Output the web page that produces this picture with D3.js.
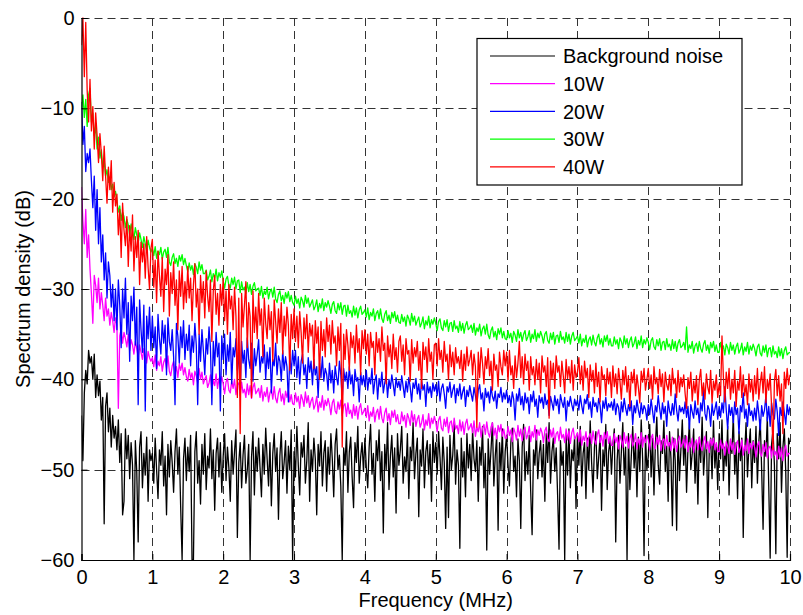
<!DOCTYPE html>
<html>
<head>
<meta charset="utf-8">
<script src="https://cdn.jsdelivr.net/npm/d3@7"></script>
<style>
  body { margin: 0; background: #fff; }
  svg { display: block; font-family: "Liberation Sans", Arial, Helvetica, sans-serif; }
</style>
</head>
<body>
<svg id="chart" width="803" height="615"></svg>
<script>
// spectrum samples, one every 0.02 MHz from 0 to 10 MHz (one line = 0.5 MHz)
const freqStepMHz = 0.02;

const xTicks = [0, 1, 2, 3, 4, 5, 6, 7, 8, 9, 10];
const yTicks = [0, -10, -20, -30, -40, -50, -60];

const seriesNames = ["Background noise", "10W", "20W", "30W", "40W"];

const noiseDb = [
  -44.0, -49.0, -41.5, -39.0, -40.5, -36.8, -38.2, -37.5, -40.0, -37.2, -42.0, -39.5, -41.8, -40.2, -44.5, -42.0, -56.0, -43.0, -41.5, -45.8, -43.2, -47.5, -44.0, -46.5, -45.2,
  -47.8, -44.5, -49.2, -46.0, -55.0, -53.5, -45.5, -48.8, -46.2, -51.0, -47.0, -49.5, -60.0, -46.8, -50.2, -58.0, -47.5, -45.8, -52.0, -48.2, -50.6, -46.4, -53.5, -47.8, -49.0,
  -48.2, -51.5, -46.5, -50.0, -53.2, -47.8, -49.5, -45.8, -51.8, -48.5, -55.0, -47.2, -50.8, -46.8, -49.2, -52.5, -48.0, -45.5, -50.5, -47.5, -54.2, -60.0, -48.8, -46.5, -51.2,
  -47.5, -50.2, -46.2, -60.0, -60.0, -48.0, -45.8, -51.5, -49.0, -53.8, -47.2, -50.5, -46.0, -52.2, -48.5, -49.8, -45.5, -51.0, -47.8, -54.5, -48.2, -46.5, -50.8, -47.0, -52.5,
  -48.5, -46.0, -51.2, -47.5, -49.8, -53.5, -46.8, -50.5, -48.0, -45.6, -57.5, -49.2, -47.0, -52.0, -48.4, -46.2, -51.5, -50.0, -47.2, -60.0, -48.6, -45.8, -52.8, -47.5, -50.2,
  -46.5, -49.8, -53.0, -47.2, -50.5, -45.4, -48.8, -51.8, -47.0, -54.0, -48.2, -46.0, -50.2, -47.6, -55.5, -48.5, -45.8, -51.0, -49.2, -46.8, -52.6, -47.4, -50.0, -45.6, -60.0,
  -48.0, -50.8, -45.2, -49.5, -52.8, -47.0, -48.6, -46.2, -51.5, -49.0, -44.8, -53.5, -47.8, -50.2, -46.5, -48.8, -55.0, -47.2, -49.6, -45.8, -51.8, -48.2, -46.8, -52.4, -47.5,
  -50.5, -46.0, -48.8, -53.0, -47.2, -45.5, -50.0, -48.4, -51.8, -60.0, -47.6, -49.5, -45.8, -52.5, -48.0, -46.4, -50.8, -54.2, -47.0, -49.2, -45.2, -51.5, -48.6, -47.0, -50.2,
  -46.5, -49.8, -52.0, -47.5, -45.0, -50.5, -48.2, -53.5, -46.8, -49.0, -45.6, -51.2, -48.0, -57.0, -47.2, -50.0, -44.8, -52.2, -48.5, -46.2, -50.8, -47.6, -54.8, -46.0, -49.5,
  -47.8, -45.2, -51.5, -48.6, -50.2, -46.0, -53.2, -47.5, -49.0, -44.8, -51.0, -48.2, -46.5, -55.2, -47.8, -49.6, -45.5, -52.0, -48.0, -46.8, -50.5, -47.2, -53.5, -45.8, -49.2,
  -47.0, -50.5, -45.8, -48.6, -52.2, -46.4, -49.2, -56.5, -47.5, -55.3, -46.2, -50.0, -48.4, -45.0, -51.6, -47.8, -49.5, -58.7, -46.5, -50.8, -48.0, -53.0, -46.0, -49.8, -47.2,
  -51.2, -45.6, -48.8, -50.2, -46.8, -53.5, -47.5, -49.5, -45.2, -52.0, -48.2, -58.9, -46.6, -50.5, -47.8, -44.8, -51.8, -48.5, -46.2, -56.7, -47.0, -50.0, -45.5, -52.6, -48.0,
  -46.2, -49.5, -51.8, -47.0, -45.4, -50.2, -48.5, -53.0, -46.6, -49.0, -56.5, -47.5, -45.0, -51.2, -48.0, -50.5, -46.2, -52.4, -57.2, -47.8, -49.5, -45.6, -51.0, -48.2, -46.8,
  -50.8, -47.2, -53.5, -46.0, -49.2, -44.8, -51.5, -48.0, -46.5, -50.2, -47.6, -52.8, -58.8, -46.8, -49.5, -48.0, -60.0, -46.2, -50.6, -45.5, -52.0, -47.8, -49.0, -46.4, -54.3,
  -46.0, -49.5, -45.2, -51.8, -48.2, -47.0, -53.2, -46.5, -50.0, -44.6, -49.2, -52.5, -47.5, -45.8, -51.0, -48.6, -46.2, -54.5, -47.8, -49.6, -45.0, -52.2, -48.0, -46.8, -50.5,
  -47.2, -45.5, -58.0, -49.0, -46.2, -51.5, -48.0, -44.8, -50.6, -47.5, -60.0, -46.0, -52.2, -48.5, -45.2, -49.8, -47.0, -53.0, -46.4, -50.2, -44.5, -48.8, -59.5, -46.2, -50.0,
  -48.5, -45.0, -50.8, -46.5, -52.8, -47.2, -44.2, -49.5, -51.6, -46.8, -48.2, -44.6, -50.2, -47.4, -53.5, -45.8, -48.8, -56.2, -46.5, -49.0, -56.7, -45.5, -51.2, -47.8, -44.5,
  -49.5, -46.2, -52.5, -47.6, -44.8, -50.0, -48.2, -45.5, -51.5, -47.0, -53.8, -46.4, -49.2, -44.2, -50.6, -47.8, -45.8, -55.3, -48.0, -46.5, -51.0, -44.6, -49.8, -47.2, -52.2,
  -46.0, -48.8, -44.5, -51.2, -47.5, -49.6, -45.2, -52.8, -46.8, -48.2, -44.0, -50.5, -47.0, -53.2, -45.8, -49.0, -46.5, -57.5, -48.2, -44.8, -50.8, -47.4, -45.5, -52.0, -46.8,
  -49.2, -45.2, -51.5, -47.0, -44.5, -50.0, -56.6, -46.8, -48.5, -44.2, -51.8, -59.8, -47.2, -45.6, -49.5, -59.3, -46.0, -48.8, -44.8, -52.5, -47.5, -45.5, -50.2, -59.7, -46.5,
  -47.2
];

const w10Db = [
  -18.7, -22.5, -25.0, -21.2, -26.5, -24.0, -27.8, -30.5, -33.8, -28.5, -29.6, -31.5, -28.8, -32.2, -30.4, -31.8, -33.5, -31.0, -33.0, -32.2, -34.0, -32.6, -33.5, -34.8, -33.2,
  -34.0, -43.2, -35.2, -34.4, -36.0, -34.8, -35.5, -36.4, -35.0, -36.8, -35.6, -36.2, -37.2, -35.8, -36.6, -37.5, -36.2, -37.0, -37.8, -36.6, -37.4, -38.2, -36.9, -37.6, -38.0,
  -37.6, -38.6, -37.3, -39.0, -38.0, -38.5, -37.5, -39.1, -38.1, -37.7, -38.8, -37.4, -39.1, -39.6, -38.5, -38.0, -39.4, -38.6, -39.8, -38.3, -39.0, -38.2, -39.5, -38.7, -39.7,
  -40.2, -38.9, -39.9, -39.3, -40.6, -39.1, -39.6, -40.4, -38.8, -40.0, -39.2, -40.5, -40.0, -39.6, -40.9, -40.4, -39.5, -41.2, -40.1, -40.7, -39.4, -41.0, -39.9, -40.5, -39.7,
  -40.5, -41.6, -40.3, -39.9, -41.2, -41.5, -40.2, -41.0, -40.0, -41.7, -40.6, -40.4, -41.8, -40.3, -41.5, -41.1, -42.0, -40.5, -41.7, -40.7, -42.1, -40.9, -40.4, -41.6, -41.3,
  -41.0, -42.0, -40.7, -42.4, -41.4, -41.9, -40.9, -42.5, -41.5, -41.1, -42.2, -40.8, -42.1, -42.6, -41.5, -41.0, -42.4, -41.6, -42.8, -41.3, -42.0, -41.2, -42.5, -41.7, -42.7,
  -42.8, -41.5, -42.5, -41.9, -43.2, -41.7, -42.2, -43.0, -41.4, -42.6, -41.8, -43.1, -42.4, -42.0, -43.3, -42.8, -41.9, -43.6, -42.5, -43.1, -41.8, -43.4, -42.3, -42.9, -42.1,
  -42.8, -43.9, -42.6, -42.2, -43.5, -43.8, -42.5, -43.3, -42.3, -44.0, -42.9, -42.7, -44.1, -42.6, -43.8, -43.4, -44.3, -42.8, -44.0, -43.0, -44.4, -43.2, -42.7, -43.9, -43.6,
  -43.2, -44.2, -42.9, -44.6, -43.6, -44.1, -43.1, -44.7, -43.7, -43.3, -44.4, -43.0, -44.3, -44.8, -43.7, -43.2, -44.6, -43.8, -45.0, -43.5, -44.2, -43.4, -44.7, -43.9, -44.9,
  -44.9, -43.6, -44.6, -44.0, -45.3, -43.8, -44.3, -45.1, -43.5, -44.7, -43.9, -45.2, -44.4, -44.0, -45.3, -44.8, -43.9, -45.6, -44.5, -45.1, -43.8, -45.4, -44.3, -44.9, -44.1,
  -44.7, -45.8, -44.5, -44.1, -45.4, -45.7, -44.4, -45.2, -44.2, -45.9, -44.8, -44.6, -45.8, -44.3, -45.5, -45.1, -46.0, -44.5, -45.7, -44.7, -46.1, -44.9, -44.4, -45.6, -45.3,
  -44.9, -45.9, -44.6, -46.3, -45.3, -45.8, -44.8, -46.4, -45.4, -45.0, -46.1, -44.7, -45.9, -46.4, -45.3, -44.8, -46.2, -45.4, -46.6, -45.1, -45.8, -45.0, -46.3, -45.5, -46.5,
  -46.5, -45.2, -46.2, -45.6, -46.9, -45.4, -45.9, -46.7, -45.1, -46.3, -45.5, -46.8, -45.7, -45.3, -46.6, -46.1, -45.2, -46.9, -45.8, -46.4, -45.1, -46.7, -45.6, -46.2, -45.4,
  -45.9, -47.0, -45.7, -45.3, -46.6, -46.9, -45.6, -46.4, -45.4, -47.1, -46.0, -45.8, -46.8, -45.3, -46.5, -46.1, -47.0, -45.5, -46.7, -45.7, -47.1, -45.9, -45.4, -46.6, -46.3,
  -45.9, -46.9, -45.6, -47.3, -46.3, -46.8, -45.8, -47.4, -46.4, -46.0, -47.1, -45.7, -46.7, -47.2, -46.1, -45.6, -47.0, -46.2, -47.4, -45.9, -46.6, -45.8, -47.1, -46.3, -47.3,
  -47.3, -46.0, -47.0, -46.4, -47.7, -46.2, -46.7, -47.5, -45.9, -47.1, -46.3, -47.6, -46.5, -46.1, -47.4, -46.9, -46.0, -47.7, -46.6, -47.2, -45.9, -47.5, -46.4, -47.0, -46.2,
  -46.7, -47.8, -46.5, -46.1, -47.4, -47.7, -46.4, -47.2, -46.2, -47.9, -46.8, -46.6, -47.7, -46.2, -47.4, -47.0, -47.9, -46.4, -47.6, -46.6, -48.0, -46.8, -46.3, -47.5, -47.2,
  -46.6, -47.6, -46.3, -48.0, -47.0, -47.5, -46.5, -48.1, -47.1, -46.7, -47.8, -46.4, -47.4, -47.9, -46.8, -46.3, -47.7, -46.9, -48.1, -46.6, -47.3, -46.5, -47.8, -47.0, -48.0,
  -48.0, -46.7, -47.7, -47.1, -48.4, -46.9, -47.4, -48.2, -46.6, -47.8, -47.0, -48.3, -47.2, -46.8, -48.1, -47.6, -46.7, -48.4, -47.3, -47.9, -46.6, -48.2, -47.1, -47.7, -46.9,
  -47.5, -48.6, -47.3, -46.9, -48.2, -48.5, -47.2, -48.0, -47.0, -48.7, -47.6, -47.4, -48.7, -47.2, -48.4, -48.0, -48.9, -47.4, -48.6, -47.6, -49.0, -47.8, -47.3, -48.5, -48.2,
  -48.2
];

const w20Db = [
  -9.3, -14.0, -12.0, -17.0, -15.0, -16.0, -14.5, -18.0, -21.0, -17.5, -23.5, -19.0, -25.0, -21.0, -27.0, -24.0, -29.0, -26.0, -31.0, -27.0, -28.5, -32.0, -29.5, -33.5, -30.0,
  -34.5, -29.0, -31.8, -36.5, -30.0, -33.2, -28.8, -35.0, -31.5, -38.0, -30.8, -33.5, -29.8, -36.2, -32.0, -42.8, -31.2, -34.5, -37.0, -31.8, -43.5, -33.0, -35.5, -32.0, -36.8,
  -33.0, -36.5, -34.2, -38.8, -32.8, -35.5, -37.2, -33.5, -36.0, -34.0, -39.5, -33.2, -35.8, -36.8, -34.5, -37.5, -42.8, -33.8, -35.2, -38.2, -34.2, -36.5, -33.5, -37.8, -35.0,
  -36.8, -34.0, -38.5, -35.2, -37.0, -33.8, -36.2, -42.8, -35.0, -38.0, -34.5, -36.8, -39.5, -35.5, -37.2, -34.2, -36.5, -42.8, -35.8, -38.5, -34.8, -37.5, -36.0, -43.5, -35.2,
  -37.8, -35.0, -39.5, -36.2, -38.0, -34.8, -40.5, -36.5, -37.5, -35.5, -39.0, -37.0, -41.2, -35.8, -38.2, -36.8, -39.8, -35.4, -37.8, -38.8, -36.0, -40.2, -36.6, -38.5, -37.2,
  -35.6, -39.2, -37.5, -38.2, -36.2, -40.0, -37.0, -38.8, -36.5, -41.5, -37.8, -38.5, -36.0, -39.5, -37.4, -38.0, -40.2, -36.8, -39.0, -37.5, -38.6, -42.5, -37.2, -39.4, -36.8,
  -38.5, -36.8, -39.8, -37.5, -40.5, -38.0, -37.2, -39.5, -38.4, -41.0, -37.6, -39.2, -38.0, -40.6, -37.8, -39.5, -38.6, -42.0, -38.2, -39.8, -37.5, -40.2, -38.8, -39.4, -41.2,
  -38.2, -40.4, -39.0, -41.5, -38.5, -39.8, -40.6, -38.0, -39.5, -42.2, -38.8, -40.2, -39.2, -41.0, -38.6, -40.5, -39.5, -41.8, -38.9, -40.2, -39.8, -42.5, -39.2, -40.6, -39.6,
  -40.8, -39.0, -41.2, -39.8, -40.5, -38.8, -41.6, -40.2, -39.5, -42.2, -39.9, -40.8, -39.2, -41.5, -40.4, -39.6, -42.0, -40.0, -41.0, -39.5, -40.6, -41.8, -39.8, -40.9, -40.2,
  -41.2, -39.6, -40.8, -42.0, -40.2, -41.4, -39.8, -40.9, -42.5, -40.4, -41.0, -39.9, -41.6, -40.5, -42.2, -40.1, -41.2, -40.6, -43.0, -40.3, -41.5, -40.8, -42.0, -40.4, -41.3,
  -40.6, -41.8, -40.2, -42.4, -41.0, -40.5, -41.6, -43.2, -40.8, -41.4, -40.3, -42.0, -41.2, -40.6, -42.6, -41.0, -41.8, -40.5, -42.2, -41.4, -40.8, -43.0, -41.2, -41.9, -40.7,
  -41.6, -42.4, -40.9, -41.8, -42.8, -41.2, -40.6, -42.2, -41.5, -43.5, -41.0, -42.0, -41.4, -42.6, -40.8, -41.9, -42.4, -41.3, -43.2, -41.6, -42.0, -40.9, -42.5, -41.5, -42.2,
  -41.2, -42.6, -41.8, -43.0, -41.4, -42.2, -44.5, -41.6, -42.4, -41.0, -42.8, -41.9, -43.4, -41.5, -42.6, -42.0, -43.8, -41.7, -42.5, -41.3, -43.0, -42.2, -44.2, -41.8, -42.6,
  -42.0, -43.2, -41.6, -42.8, -42.3, -44.0, -41.9, -42.6, -43.4, -41.8, -42.9, -42.2, -43.8, -41.7, -42.5, -43.1, -42.0, -44.6, -42.4, -43.0, -41.9, -42.8, -43.5, -42.2, -42.9,
  -42.3, -43.4, -41.8, -42.9, -43.8, -42.2, -42.7, -41.7, -43.3, -42.5, -44.2, -42.0, -43.0, -42.6, -43.6, -42.1, -42.9, -44.8, -42.4, -43.2, -42.0, -43.5, -42.7, -43.1, -42.5,
  -43.4, -42.2, -43.9, -42.7, -43.1, -44.6, -42.5, -43.6, -42.1, -43.2, -44.0, -42.8, -43.5, -42.4, -45.0, -42.9, -43.7, -42.3, -43.4, -44.2, -42.6, -43.8, -42.9, -43.3, -44.5,
  -42.8, -43.9, -42.2, -43.5, -44.8, -42.9, -43.6, -41.8, -43.2, -44.4, -42.6, -43.8, -43.0, -45.2, -42.4, -43.5, -44.0, -42.7, -43.9, -41.6, -43.4, -44.6, -42.9, -43.6, -43.1,
  -43.8, -42.5, -44.2, -43.0, -45.5, -42.8, -43.6, -44.3, -42.4, -43.9, -43.2, -44.8, -42.6, -43.5, -41.2, -43.8, -44.5, -42.9, -43.4, -45.2, -42.7, -44.0, -43.3, -42.5, -44.4,
  -43.0, -44.2, -42.6, -43.7, -40.8, -43.4, -45.5, -42.8, -44.0, -43.1, -44.8, -42.5, -43.9, -43.2, -46.0, -42.9, -43.6, -41.5, -44.3, -43.3, -45.2, -42.7, -44.0, -43.5, -44.6,
  -43.2, -44.5, -42.4, -43.8, -45.6, -42.9, -44.1, -43.4, -41.8, -44.6, -43.0, -45.2, -42.6, -43.9, -44.4, -42.2, -43.6, -46.2, -43.1, -44.0, -42.5, -43.7, -45.0, -42.8, -43.9,
  -43.0
];

const w30Db = [
  -10.0, -8.5, -11.0, -9.0, -12.0, -8.5, -7.8, -11.5, -10.5, -13.0, -12.0, -14.5, -13.2, -15.5, -14.6, -16.5, -15.8, -17.5, -16.8, -18.2, -17.6, -19.0, -18.4, -19.8, -19.2,
  -20.2, -21.5, -20.8, -22.4, -21.5, -22.0, -23.2, -22.3, -22.9, -24.0, -22.8, -23.6, -24.5, -23.2, -24.0, -24.9, -23.8, -24.5, -25.4, -24.2, -25.0, -25.8, -24.6, -25.4, -25.9,
  -25.5, -26.3, -25.3, -26.6, -25.8, -26.2, -25.4, -26.7, -25.9, -25.6, -26.5, -25.4, -27.0, -27.4, -26.5, -26.1, -27.2, -26.6, -27.5, -26.3, -26.9, -26.2, -27.3, -26.6, -27.4,
  -28.1, -27.1, -27.9, -27.4, -28.4, -27.2, -27.6, -28.3, -27.0, -27.9, -27.3, -28.3, -28.3, -27.9, -29.0, -28.6, -27.9, -29.2, -28.3, -28.8, -27.8, -29.1, -28.2, -28.7, -28.0,
  -29.1, -29.9, -28.9, -28.6, -29.6, -29.9, -28.8, -29.5, -28.7, -30.0, -29.1, -29.0, -30.4, -29.2, -30.1, -29.8, -30.5, -29.3, -30.3, -29.5, -30.6, -29.7, -29.3, -30.2, -30.0,
  -29.9, -30.7, -29.7, -31.0, -30.2, -30.6, -29.8, -31.1, -30.3, -30.0, -30.9, -29.8, -31.1, -31.5, -30.6, -30.2, -31.3, -30.7, -31.6, -30.4, -31.0, -30.3, -31.4, -30.7, -31.5,
  -31.8, -30.8, -31.6, -31.1, -32.1, -30.9, -31.3, -32.0, -30.7, -31.6, -31.0, -32.0, -31.6, -31.2, -32.3, -31.9, -31.2, -32.5, -31.6, -32.1, -31.1, -32.4, -31.5, -32.0, -31.3,
  -31.9, -32.7, -31.7, -31.4, -32.4, -32.7, -31.6, -32.3, -31.5, -32.8, -31.9, -31.8, -33.0, -31.8, -32.7, -32.4, -33.1, -31.9, -32.9, -32.1, -33.2, -32.3, -31.9, -32.8, -32.6,
  -32.3, -33.1, -32.1, -33.4, -32.6, -33.0, -32.2, -33.5, -32.7, -32.4, -33.3, -32.2, -33.3, -33.7, -32.8, -32.4, -33.5, -32.9, -33.8, -32.6, -33.2, -32.5, -33.6, -32.9, -33.7,
  -33.8, -32.8, -33.6, -33.1, -34.1, -32.9, -33.3, -34.0, -32.7, -33.6, -33.0, -34.0, -33.5, -33.1, -34.2, -33.8, -33.1, -34.4, -33.5, -34.0, -33.0, -34.3, -33.4, -33.9, -33.2,
  -33.8, -34.6, -33.6, -33.3, -34.3, -34.6, -33.5, -34.2, -33.4, -34.7, -33.8, -33.7, -34.7, -33.5, -34.4, -34.1, -34.8, -33.6, -34.6, -33.8, -34.9, -34.0, -33.6, -34.5, -34.3,
  -34.0, -34.8, -33.8, -35.1, -34.3, -34.7, -33.9, -35.2, -34.4, -34.1, -35.0, -33.9, -35.1, -35.5, -34.6, -34.2, -35.3, -34.7, -35.6, -34.4, -35.0, -34.3, -35.4, -34.7, -35.5,
  -35.6, -34.6, -35.4, -34.9, -35.9, -34.7, -35.1, -35.8, -34.5, -35.4, -34.8, -35.8, -35.0, -34.6, -35.7, -35.3, -34.6, -35.9, -35.0, -35.5, -34.5, -35.8, -34.9, -35.4, -34.7,
  -35.2, -36.0, -35.0, -34.7, -35.7, -36.0, -34.9, -35.6, -34.8, -36.1, -35.2, -35.1, -35.9, -34.7, -35.6, -35.3, -36.0, -34.8, -35.8, -35.0, -36.1, -35.2, -34.8, -35.7, -35.5,
  -35.2, -36.0, -35.0, -36.3, -35.5, -35.9, -35.1, -36.4, -35.6, -35.3, -36.2, -35.1, -35.9, -36.3, -35.4, -35.0, -36.1, -35.5, -36.4, -35.2, -35.8, -35.1, -36.2, -35.5, -36.3,
  -36.3, -35.3, -36.1, -35.6, -36.6, -35.4, -35.8, -36.5, -35.2, -36.1, -35.5, -36.5, -35.7, -35.3, -36.4, -36.0, -35.3, -36.6, -35.7, -36.2, -35.2, -36.5, -35.6, -36.1, -35.4,
  -35.9, -36.7, -35.7, -35.4, -36.4, -36.7, -35.6, -36.3, -35.5, -36.8, -35.9, -35.8, -36.7, -35.5, -36.4, -36.1, -36.8, -35.6, -36.6, -35.8, -36.9, -36.0, -35.6, -36.5, -36.3,
  -35.9, -36.7, -34.2, -37.0, -36.2, -36.6, -35.8, -37.1, -36.3, -36.0, -36.9, -35.8, -36.6, -37.0, -36.1, -35.7, -36.8, -36.2, -37.1, -35.9, -36.5, -35.8, -36.9, -36.2, -37.0,
  -37.0, -35.9, -36.8, -36.3, -37.3, -36.1, -36.5, -37.2, -35.9, -36.8, -36.2, -37.2, -36.4, -36.0, -37.1, -36.7, -36.0, -37.3, -36.4, -36.9, -35.9, -37.2, -36.3, -36.8, -36.1,
  -36.6, -37.4, -36.4, -36.1, -37.1, -37.4, -36.3, -37.0, -36.2, -37.5, -36.6, -36.5, -37.5, -36.3, -37.2, -36.9, -37.6, -36.4, -37.4, -36.6, -37.7, -36.8, -36.4, -37.3, -37.1,
  -37.0
];

const w40Db = [
  -3.0, 0.0, -6.5, -0.5, -8.0, -11.5, -6.8, -12.5, -9.8, -14.5, -10.5, -13.0, -16.0, -12.8, -15.0, -18.0, -14.2, -17.5, -20.5, -16.5, -19.0, -15.8, -21.5, -18.2, -20.8,
  -19.5, -24.0, -21.2, -26.5, -20.5, -23.5, -25.2, -22.0, -27.5, -23.0, -25.8, -21.8, -28.0, -24.2, -26.5, -23.5, -29.5, -24.8, -27.0, -25.0, -28.8, -24.2, -27.6, -30.0, -25.5,
  -24.5, -29.8, -26.8, -31.5, -25.8, -28.5, -30.8, -26.5, -32.5, -27.8, -29.5, -26.2, -33.0, -28.2, -30.5, -27.0, -31.8, -29.0, -34.5, -28.0, -30.8, -27.5, -32.2, -29.2, -31.5,
  -27.5, -31.0, -28.8, -33.5, -29.5, -27.2, -32.0, -30.0, -35.0, -28.5, -31.5, -29.2, -33.2, -28.0, -30.8, -32.5, -29.0, -35.8, -30.2, -28.5, -32.8, -30.5, -34.0, -29.5, -31.8,
  -28.8, -33.5, -30.2, -35.0, -29.5, -32.2, -30.8, -34.5, -29.8, -33.0, -42.0, -31.0, -46.0, -30.5, -34.2, -31.8, -29.2, -36.5, -31.5, -33.0, -42.0, -30.2, -34.8, -32.0, -35.5,
  -30.5, -34.0, -32.2, -37.5, -31.0, -33.8, -35.5, -31.8, -34.5, -32.5, -38.0, -31.2, -33.6, -36.0, -32.2, -34.8, -31.5, -37.2, -33.0, -35.2, -32.0, -34.0, -39.0, -32.8, -35.5,
  -32.2, -35.8, -33.0, -36.5, -32.5, -34.8, -38.2, -33.2, -35.5, -32.8, -37.0, -33.8, -35.2, -34.0, -38.8, -33.5, -36.0, -34.2, -40.0, -33.6, -36.8, -34.5, -37.5, -33.2, -35.8,
  -34.0, -37.2, -33.5, -36.0, -35.2, -38.5, -34.2, -36.8, -33.8, -47.5, -35.0, -37.8, -34.5, -36.2, -39.0, -34.8, -36.5, -35.2, -38.2, -34.0, -37.0, -35.5, -39.5, -34.6, -36.6,
  -34.5, -37.2, -35.0, -38.5, -34.8, -36.5, -35.8, -39.5, -34.8, -37.0, -35.5, -38.0, -34.2, -36.8, -36.0, -40.5, -35.2, -37.5, -36.2, -38.8, -35.0, -37.8, -36.5, -39.2, -35.8,
  -35.2, -38.0, -36.2, -39.5, -35.5, -37.2, -36.8, -40.2, -35.6, -38.2, -36.5, -37.5, -35.8, -39.0, -36.9, -41.0, -35.9, -37.8, -36.4, -39.2, -35.5, -38.0, -37.0, -40.0, -36.2,
  -36.0, -38.5, -35.5, -37.8, -36.8, -39.2, -35.8, -38.0, -37.2, -40.0, -36.2, -38.6, -37.0, -39.5, -36.5, -38.2, -37.5, -38.8, -36.8, -40.2, -37.2, -39.0, -36.4, -38.5, -37.8,
  -36.8, -39.5, -37.2, -38.6, -45.3, -37.0, -39.8, -36.5, -38.2, -40.5, -37.5, -38.8, -36.6, -39.6, -38.0, -41.2, -37.2, -39.0, -38.4, -40.8, -37.0, -38.6, -39.5, -36.8, -38.5,
  -37.0, -40.2, -36.8, -39.5, -38.5, -41.0, -37.4, -39.8, -38.2, -35.8, -39.8, -37.5, -40.5, -37.2, -39.0, -38.0, -41.2, -37.5, -39.5, -38.6, -40.6, -37.8, -40.0, -38.2, -41.5,
  -37.4, -39.2, -38.5, -40.8, -37.6, -44.3, -38.0, -40.0, -38.2, -41.0, -37.4, -39.2, -38.5, -40.8, -38.0, -39.6, -41.5, -37.8, -39.9, -38.6, -40.4, -37.9, -41.2, -38.4, -39.8,
  -39.2, -37.6, -40.5, -38.5, -41.2, -38.0, -39.8, -38.8, -42.0, -38.4, -40.2, -39.0, -41.5, -38.2, -40.8, -39.2, -42.5, -38.6, -40.0, -39.5, -41.8, -38.8, -40.5, -39.2, -42.0,
  -38.5, -40.8, -39.4, -41.6, -38.8, -40.2, -42.2, -39.0, -40.6, -38.6, -41.4, -39.6, -43.0, -39.2, -40.4, -38.9, -41.8, -39.5, -40.9, -42.6, -39.1, -40.3, -38.8, -41.2, -40.0,
  -38.8, -41.0, -39.5, -42.2, -38.6, -40.5, -39.8, -41.6, -38.9, -40.8, -39.4, -42.5, -39.2, -40.6, -41.2, -39.5, -41.8, -38.8, -40.5, -39.9, -42.0, -39.0, -41.4, -39.8, -40.8,
  -39.5, -41.6, -43.2, -39.8, -41.0, -39.2, -42.4, -40.2, -41.5, -39.6, -42.8, -40.0, -38.9, -41.8, -40.4, -42.2, -39.4, -40.9, -41.6, -39.0, -42.6, -40.2, -41.2, -39.5, -42.0,
  -40.5, -41.8, -35.2, -39.8, -42.5, -39.2, -41.0, -38.8, -42.2, -40.0, -41.5, -39.0, -43.0, -40.2, -41.2, -38.6, -42.0, -39.5, -41.8, -40.6, -42.8, -39.4, -41.4, -40.0, -42.4,
  -39.6, -41.6, -38.8, -42.2, -40.4, -39.2, -41.5, -38.6, -42.6, -40.0, -41.2, -39.4, -43.0, -47.8, -40.2, -38.9, -41.8, -39.6, -42.4, -40.5, -46.0, -39.2, -41.0, -38.8, -40.6,
  -39.5
];

const allSeries = [noiseDb, w10Db, w20Db, w30Db, w40Db];
const seriesColors = ["#000000", "#ff00ff", "#0000ff", "#00ff00", "#ff0000"];

function drawChart() {
  const svg = d3.select("#chart");
  const margin = { top: 18, right: 13, bottom: 55, left: 81.5 };
  const width = 803, height = 615;

  const x = d3.scaleLinear().domain([0, 10]).range([margin.left, width - margin.right]);
  const y = d3.scaleLinear().domain([-60, 0]).range([height - margin.bottom, margin.top]);

  svg.append("defs").append("clipPath").attr("id", "plotClip")
    .append("rect")
    .attr("x", x(0)).attr("y", y(0) - 1)
    .attr("width", x(10) - x(0)).attr("height", y(-60) - y(0) + 1);

  // dashed grid
  const grid = svg.append("g").attr("stroke", "#333").attr("stroke-width", 1)
    .attr("stroke-dasharray", "8,5");
  grid.selectAll("line.v").data(xTicks.slice(1)).enter().append("line")
    .attr("x1", d => Math.round(x(d)) + 0.5).attr("x2", d => Math.round(x(d)) + 0.5)
    .attr("y1", y(0)).attr("y2", y(-60));
  grid.selectAll("line.h").data(yTicks.slice(0, -1)).enter().append("line")
    .attr("x1", x(0)).attr("x2", x(10))
    .attr("y1", d => Math.round(y(d)) + 0.5).attr("y2", d => Math.round(y(d)) + 0.5);

  const line = d3.line()
    .x((d, i) => x(i * freqStepMHz))
    .y(d => y(d));

  svg.append("g").attr("clip-path", "url(#plotClip)")
    .selectAll("path").data(allSeries).enter().append("path")
    .attr("d", line)
    .attr("fill", "none")
    .attr("stroke", (d, i) => seriesColors[i])
    .attr("stroke-width", 1.3)
    .attr("stroke-linejoin", "round");

  // axes (ticks point inward like MATLAB)
  const xAxis = svg.append("g")
    .attr("transform", "translate(0," + y(-60) + ")")
    .call(d3.axisBottom(x).tickValues(xTicks).tickSize(-6).tickPadding(10));
  const yAxis = svg.append("g")
    .attr("transform", "translate(" + x(0) + ",0)")
    .call(d3.axisLeft(y).tickValues(yTicks).tickSize(-6).tickPadding(7));

  [xAxis, yAxis].forEach(a => {
    a.select(".domain").attr("stroke", "#000").attr("stroke-width", 1.2);
    a.selectAll(".tick line").attr("stroke", "#000");
    a.selectAll("text").attr("font-size", 20).attr("font-family", "Liberation Sans, Arial, sans-serif").attr("fill", "#000");
  });

  svg.append("text")
    .attr("x", (x(0) + x(10)) / 2)
    .attr("y", 607)
    .attr("text-anchor", "middle")
    .attr("font-size", 20)
    .text("Frequency (MHz)");

  svg.append("text")
    .attr("transform", "translate(30," + (y(0) + y(-60)) / 2 + ") rotate(-90)")
    .attr("text-anchor", "middle")
    .attr("font-size", 20)
    .text("Spectrum density (dB)");

  // legend
  const legend = svg.append("g").attr("transform", "translate(477,38.5)");
  legend.append("rect")
    .attr("width", 265).attr("height", 146.5)
    .attr("fill", "#fff").attr("stroke", "#000").attr("stroke-width", 1.2);

  const rows = legend.selectAll("g.row").data(seriesNames).enter().append("g")
    .attr("transform", (d, i) => "translate(0," + (17.5 + i * 27.7) + ")");
  rows.append("line")
    .attr("x1", 13).attr("x2", 78)
    .attr("stroke", (d, i) => seriesColors[i])
    .attr("stroke-width", 1.2);
  rows.append("text")
    .attr("x", 86)
    .attr("dy", "0.36em")
    .attr("font-size", 20)
    .text(d => d);
}

drawChart();
</script>
</body>
</html>
